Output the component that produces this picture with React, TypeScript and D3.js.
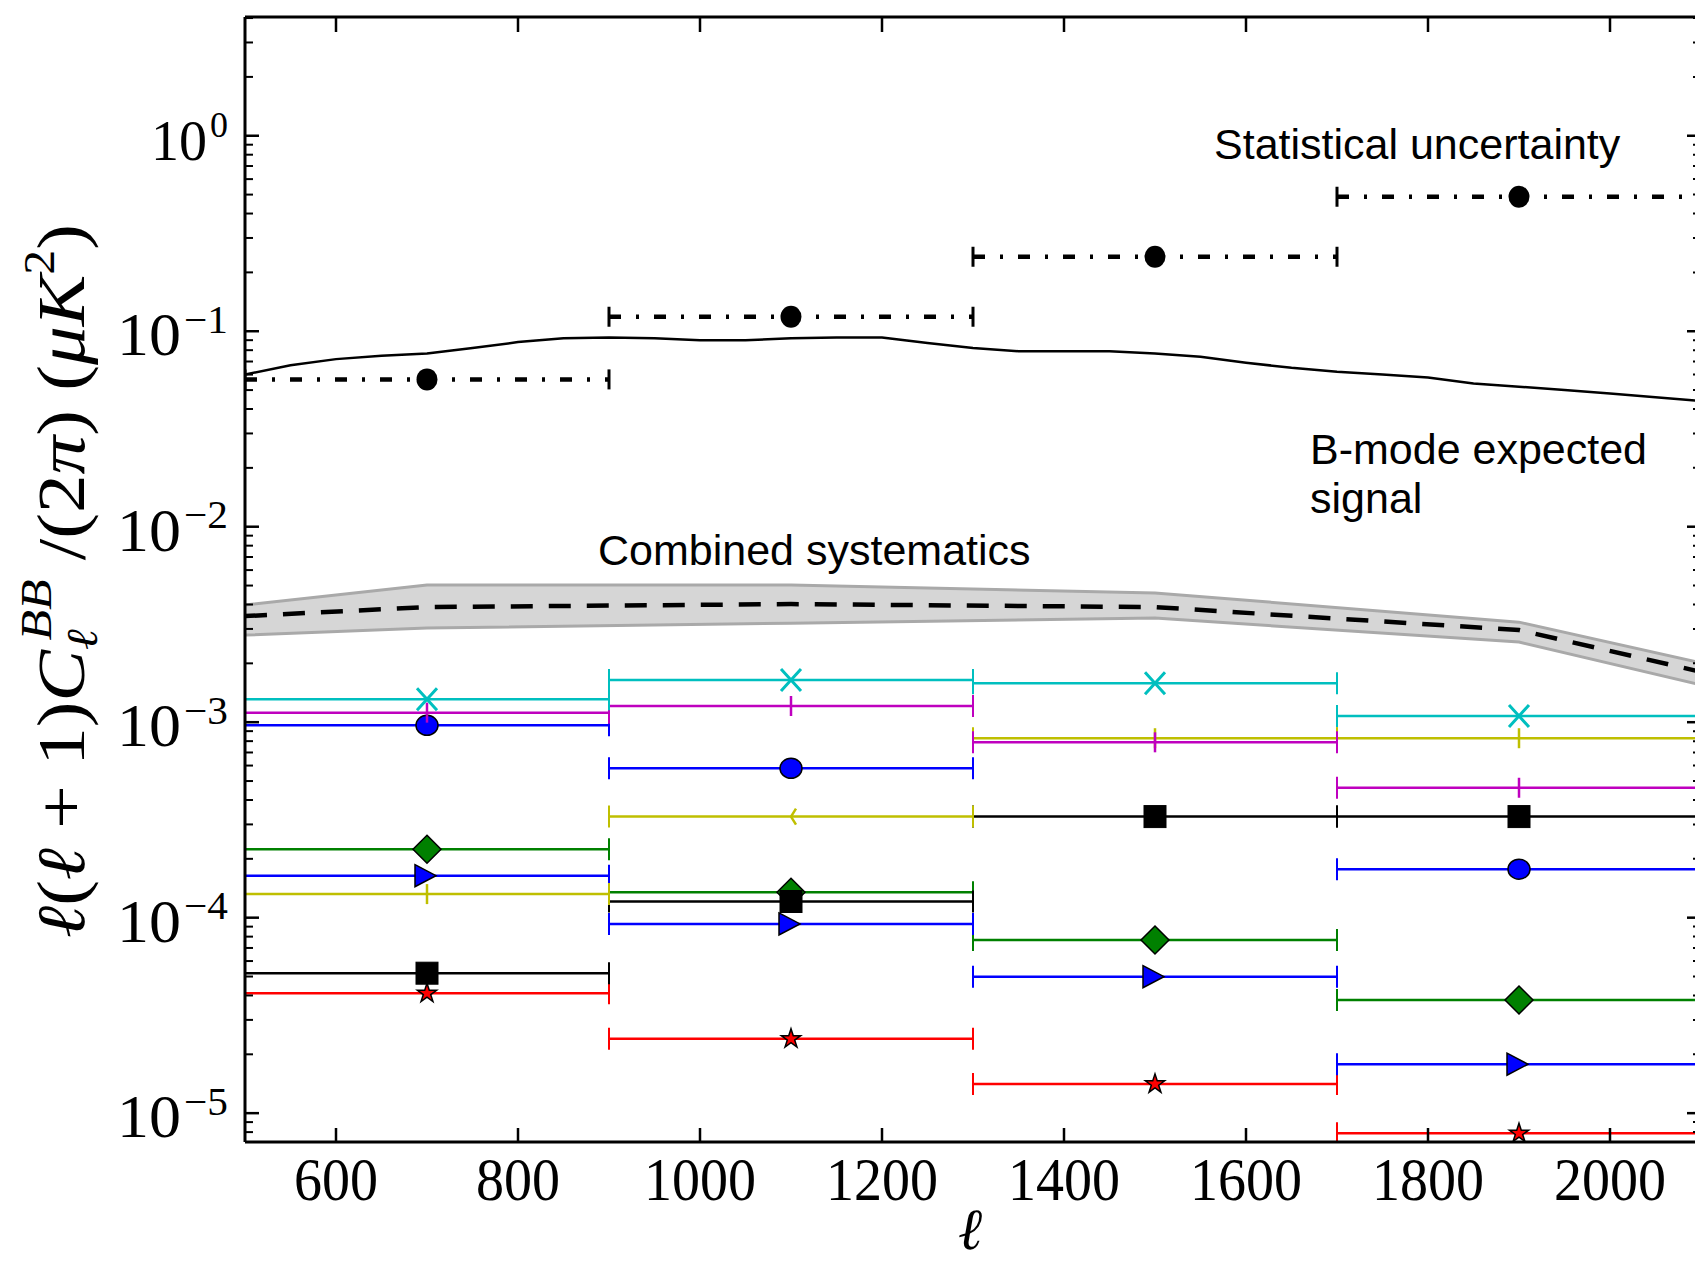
import React from 'react';
import * as d3 from 'd3';

// ---------------- data ----------------
const binEdges = [500, 900, 1300, 1700, 2100];
const binCenters = [700, 1100, 1500, 1900];

const statValues = [0.0567, 0.1186, 0.2404, 0.4875];

const signalL = [500, 550, 600, 650, 700, 750, 800, 850, 900, 950, 1000, 1050, 1100, 1150, 1200, 1250, 1300, 1350, 1400, 1450, 1500, 1550, 1600, 1650, 1700, 1750, 1800, 1850, 1900, 1950, 2000, 2050, 2100];
const signalV = [0.060, 0.067, 0.072, 0.075, 0.077, 0.082, 0.088, 0.092, 0.093, 0.092, 0.090, 0.090, 0.092, 0.093, 0.093, 0.087, 0.082, 0.079, 0.079, 0.079, 0.077, 0.074, 0.069, 0.065, 0.062, 0.060, 0.058, 0.054, 0.052, 0.050, 0.048, 0.046, 0.044];

const bandL = [500, 700, 1100, 1500, 1900, 2100];
const bandLow = [0.00279, 0.00303, 0.00321, 0.00341, 0.00257, 0.00155];
const bandHigh = [0.00398, 0.00503, 0.00503, 0.00458, 0.00325, 0.00201];
const bandMid = [0.00349, 0.00388, 0.00402, 0.00388, 0.00296, 0.00181];

const redStar = [4.1e-5, 2.4e-5, 1.41e-5, 7.89e-6];
const greenDiamond = [0.000224, 0.000135, 7.69e-5, 3.79e-5];
const blueTriangle = [0.000164, 9.29e-5, 4.99e-5, 1.78e-5];
const blackSquare = [5.2e-5, 0.000121, 0.000329, 0.000329];
const blueCircle = [0.000964, 0.000581, null, 0.000177];
const yellowSys = [0.000132, 0.000329, 0.000828, 0.000828];
const yellowMarkers = ['vline', 'trileft', 'vline', 'vline'];
const magentaSys = [0.001119, 0.00121, 0.000789, 0.000462];
const cyanX = [0.001309, 0.001644, 0.00158, 0.001076];

const xTicks = [600, 800, 1000, 1200, 1400, 1600, 1800, 2000];
const yDecades = [-5, -4, -3, -2, -1, 0];

// ---------------- layout ----------------
const W = 1695;
const H = 1262;
const left = 245;
const right = 1701;
const top = 17;
const bottom = 1142;

const x = d3.scaleLinear().domain([500, 2100]).range([left, right]);
const y = d3.scaleLog().domain([7.12e-6, 4.05]).range([bottom, top]);

type Series = { values: (number | null)[]; color: string; marker: string | string[] };
const series: Series[] = [
  { values: redStar, color: '#ff0000', marker: 'star' },
  { values: greenDiamond, color: '#008000', marker: 'diamond' },
  { values: blueTriangle, color: '#0000ff', marker: 'triright' },
  { values: blackSquare, color: '#000000', marker: 'square' },
  { values: blueCircle, color: '#0000ff', marker: 'circle' },
  { values: yellowSys, color: '#bfbf00', marker: yellowMarkers },
  { values: magentaSys, color: '#bf00bf', marker: 'vline' },
  { values: cyanX, color: '#00bfbf', marker: 'x' },
];

const serif = '"Liberation Serif", "DejaVu Serif", serif';
const sans = '"Liberation Sans", Arial, Helvetica, sans-serif';

function Marker({ kind, cx, cy, color }: { kind: string; cx: number; cy: number; color: string }) {
  switch (kind) {
    case 'star': {
      const p = d3.symbol(d3.symbolStar, 115)();
      return <path d={p || ''} transform={`translate(${cx},${cy})`} fill={color} stroke="#000" strokeWidth={1.5} />;
    }
    case 'diamond':
      return <path d={`M${cx},${cy - 14}L${cx + 14},${cy}L${cx},${cy + 14}L${cx - 14},${cy}Z`} fill={color} stroke="#000" strokeWidth={1.5} />;
    case 'triright':
      return <path d={`M${cx - 12},${cy - 11}L${cx + 9},${cy}L${cx - 12},${cy + 11}Z`} fill={color} stroke="#000" strokeWidth={1.5} />;
    case 'square':
      return <rect x={cx - 11} y={cy - 11} width={22} height={22} fill={color} stroke="#000" strokeWidth={1} />;
    case 'circle':
      return <ellipse cx={cx} cy={cy} rx={11} ry={10} fill={color} stroke="#000" strokeWidth={1.5} />;
    case 'vline':
      return <line x1={cx} x2={cx} y1={cy - 10} y2={cy + 10} stroke={color} strokeWidth={2.5} />;
    case 'trileft':
      return <path d={`M${cx},${cy}L${cx + 5},${cy - 8}M${cx},${cy}L${cx + 5},${cy + 8}`} stroke={color} strokeWidth={2.5} fill="none" />;
    case 'x':
      return <path d={`M${cx - 10},${cy - 11}L${cx + 10},${cy + 11}M${cx - 10},${cy + 11}L${cx + 10},${cy - 11}`} stroke={color} strokeWidth={3} fill="none" />;
    default:
      return null;
  }
}

export default function App() {
  const area = d3
    .area<number>()
    .x((_, i) => x(bandL[i]))
    .y0((_, i) => y(bandLow[i]))
    .y1((_, i) => y(bandHigh[i]));
  const bandPath = area(bandL) || '';
  const lineOf = (vals: number[]) =>
    d3
      .line<number>()
      .x((_, i) => x(bandL[i]))
      .y((_, i) => y(vals[i]))(vals) || '';
  const signalPath =
    d3
      .line<number>()
      .x((_, i) => x(signalL[i]))
      .y((_, i) => y(signalV[i]))(signalV) || '';

  const minorTicks: number[] = [];
  for (let k = -6; k <= 0; k++) {
    for (let m = 2; m <= 9; m++) {
      const v = m * Math.pow(10, k);
      const [d0, d1] = y.domain();
      if (v > d0 && v < d1) minorTicks.push(v);
    }
  }

  return (
    <svg width={W} height={H} style={{ position: 'absolute', left: 0, top: 0, background: '#fff' }}>
      <defs>
        <clipPath id="plotclip">
          <rect x={left} y={top} width={right - left} height={bottom - top} />
        </clipPath>
      </defs>
      <rect x={0} y={0} width={W} height={H} fill="#fff" />

      <g clipPath="url(#plotclip)">
        {/* combined systematics band */}
        <path d={bandPath} fill="#d6d6d6" stroke="none" />
        <path d={lineOf(bandHigh)} fill="none" stroke="#a9a9a9" strokeWidth={3} />
        <path d={lineOf(bandLow)} fill="none" stroke="#a9a9a9" strokeWidth={3} />
        <path d={lineOf(bandMid)} fill="none" stroke="#000" strokeWidth={4.5} strokeDasharray="22,16" />

        {/* expected signal */}
        <path d={signalPath} fill="none" stroke="#000" strokeWidth={2.5} />

        {/* statistical uncertainty */}
        {statValues.map((v, i) => {
          const yy = y(v);
          const x0 = x(binEdges[i]);
          const x1 = x(binEdges[i + 1]);
          return (
            <g key={'st' + i}>
              <line x1={x0} x2={x1} y1={yy} y2={yy} stroke="#000" strokeWidth={4.5} strokeDasharray="12,15,3,15" />
              <line x1={x0} x2={x0} y1={yy - 10} y2={yy + 10} stroke="#000" strokeWidth={3} />
              <line x1={x1} x2={x1} y1={yy - 10} y2={yy + 10} stroke="#000" strokeWidth={3} />
              <ellipse cx={x(binCenters[i])} cy={yy} rx={10.5} ry={11} fill="#000" />
            </g>
          );
        })}

        {/* individual systematics */}
        {series.map((s, si) => (
          <g key={'s' + si}>
            {s.values.map((v, i) => {
              if (v == null) return null;
              const yy = y(v);
              const x0 = x(binEdges[i]);
              const x1 = x(binEdges[i + 1]);
              const kind = Array.isArray(s.marker) ? s.marker[i] : s.marker;
              return (
                <g key={i}>
                  <line x1={x0} x2={x1} y1={yy} y2={yy} stroke={s.color} strokeWidth={2.5} />
                  <line x1={x0} x2={x0} y1={yy - 11} y2={yy + 11} stroke={s.color} strokeWidth={2} />
                  <line x1={x1} x2={x1} y1={yy - 11} y2={yy + 11} stroke={s.color} strokeWidth={2} />
                  <Marker kind={kind} cx={x(binCenters[i])} cy={yy} color={s.color} />
                </g>
              );
            })}
          </g>
        ))}
      </g>

      {/* axes frame */}
      <line x1={left} x2={right} y1={top} y2={top} stroke="#000" strokeWidth={3} />
      <line x1={left} x2={right} y1={bottom} y2={bottom} stroke="#000" strokeWidth={3} />
      <line x1={left} x2={left} y1={top} y2={bottom} stroke="#000" strokeWidth={3} />
      <line x1={right} x2={right} y1={top} y2={bottom} stroke="#000" strokeWidth={3} />

      {/* x ticks */}
      {xTicks.map((t) => (
        <g key={'xt' + t}>
          <line x1={x(t)} x2={x(t)} y1={bottom} y2={bottom - 14} stroke="#000" strokeWidth={2.5} />
          <line x1={x(t)} x2={x(t)} y1={top} y2={top + 15} stroke="#000" strokeWidth={2.5} />
          <text
            x={x(t)}
            y={1200}
            fontSize={62}
            fontFamily={serif}
            textAnchor="middle"
            textLength={28 * String(t).length}
            lengthAdjust="spacingAndGlyphs"
          >
            {t}
          </text>
        </g>
      ))}

      {/* y ticks */}
      {yDecades.map((k) => {
        const v = Math.pow(10, k);
        const yy = y(v);
        const sup = k === 0 ? '0' : '\u2212' + Math.abs(k);
        const supW = k === 0 ? 18 : 54;
        const lenProps = k === 0 ? {} : { textLength: 54 + 3 + supW, lengthAdjust: 'spacingAndGlyphs' };
        return (
          <g key={'yt' + k}>
            <line x1={left} x2={left + 14} y1={yy} y2={yy} stroke="#000" strokeWidth={2.5} />
            <line x1={right} x2={right - 14} y1={yy} y2={yy} stroke="#000" strokeWidth={2.5} />
            <text x={228} y={yy + 24} fontSize={k === 0 ? 56 : 62} fontFamily={serif} textAnchor="end" {...lenProps}>
              10
              <tspan fontSize={k === 0 ? 36 : 40} dx={3} dy={-22.5}>
                {sup}
              </tspan>
            </text>
          </g>
        );
      })}
      {minorTicks.map((v, i) => (
        <g key={'mt' + i}>
          <line x1={left} x2={left + 8} y1={y(v)} y2={y(v)} stroke="#000" strokeWidth={2} />
          <line x1={right} x2={right - 8} y1={y(v)} y2={y(v)} stroke="#000" strokeWidth={2} />
        </g>
      ))}

      {/* annotations */}
      <text x={1214} y={159} fontSize={43} fontFamily={sans}>
        Statistical uncertainty
      </text>
      <text x={1310} y={464} fontSize={43} fontFamily={sans}>
        B-mode expected
      </text>
      <text x={1310} y={513} fontSize={43} fontFamily={sans}>
        signal
      </text>
      <text x={598} y={565} fontSize={43} fontFamily={sans}>
        Combined systematics
      </text>

      {/* x label */}
      <text x={970} y={1249} fontSize={58} fontFamily={serif} fontStyle="italic" textAnchor="middle">
        ℓ
      </text>

      {/* y label */}
      <g transform="translate(84, 938) rotate(-90)">
        <text x={0} y={0} fontSize={68} fontFamily={serif} textLength={714} lengthAdjust="spacingAndGlyphs">
          <tspan fontStyle="italic">ℓ</tspan>
          <tspan>(</tspan>
          <tspan fontStyle="italic">ℓ</tspan>
          <tspan> + 1)</tspan>
          <tspan fontStyle="italic">C</tspan>
          <tspan fontStyle="italic" fontSize={44} dy={13}>ℓ</tspan>
          <tspan fontStyle="italic" fontSize={44} dx={-10} dy={-46}>BB</tspan>
          <tspan dy={33}> /(2</tspan>
          <tspan fontStyle="italic">π</tspan>
          <tspan>) (</tspan>
          <tspan fontStyle="italic">μK</tspan>
          <tspan fontSize={44} dy={-30}>2</tspan>
          <tspan dy={30}>)</tspan>
        </text>
      </g>
    </svg>
  );
}
